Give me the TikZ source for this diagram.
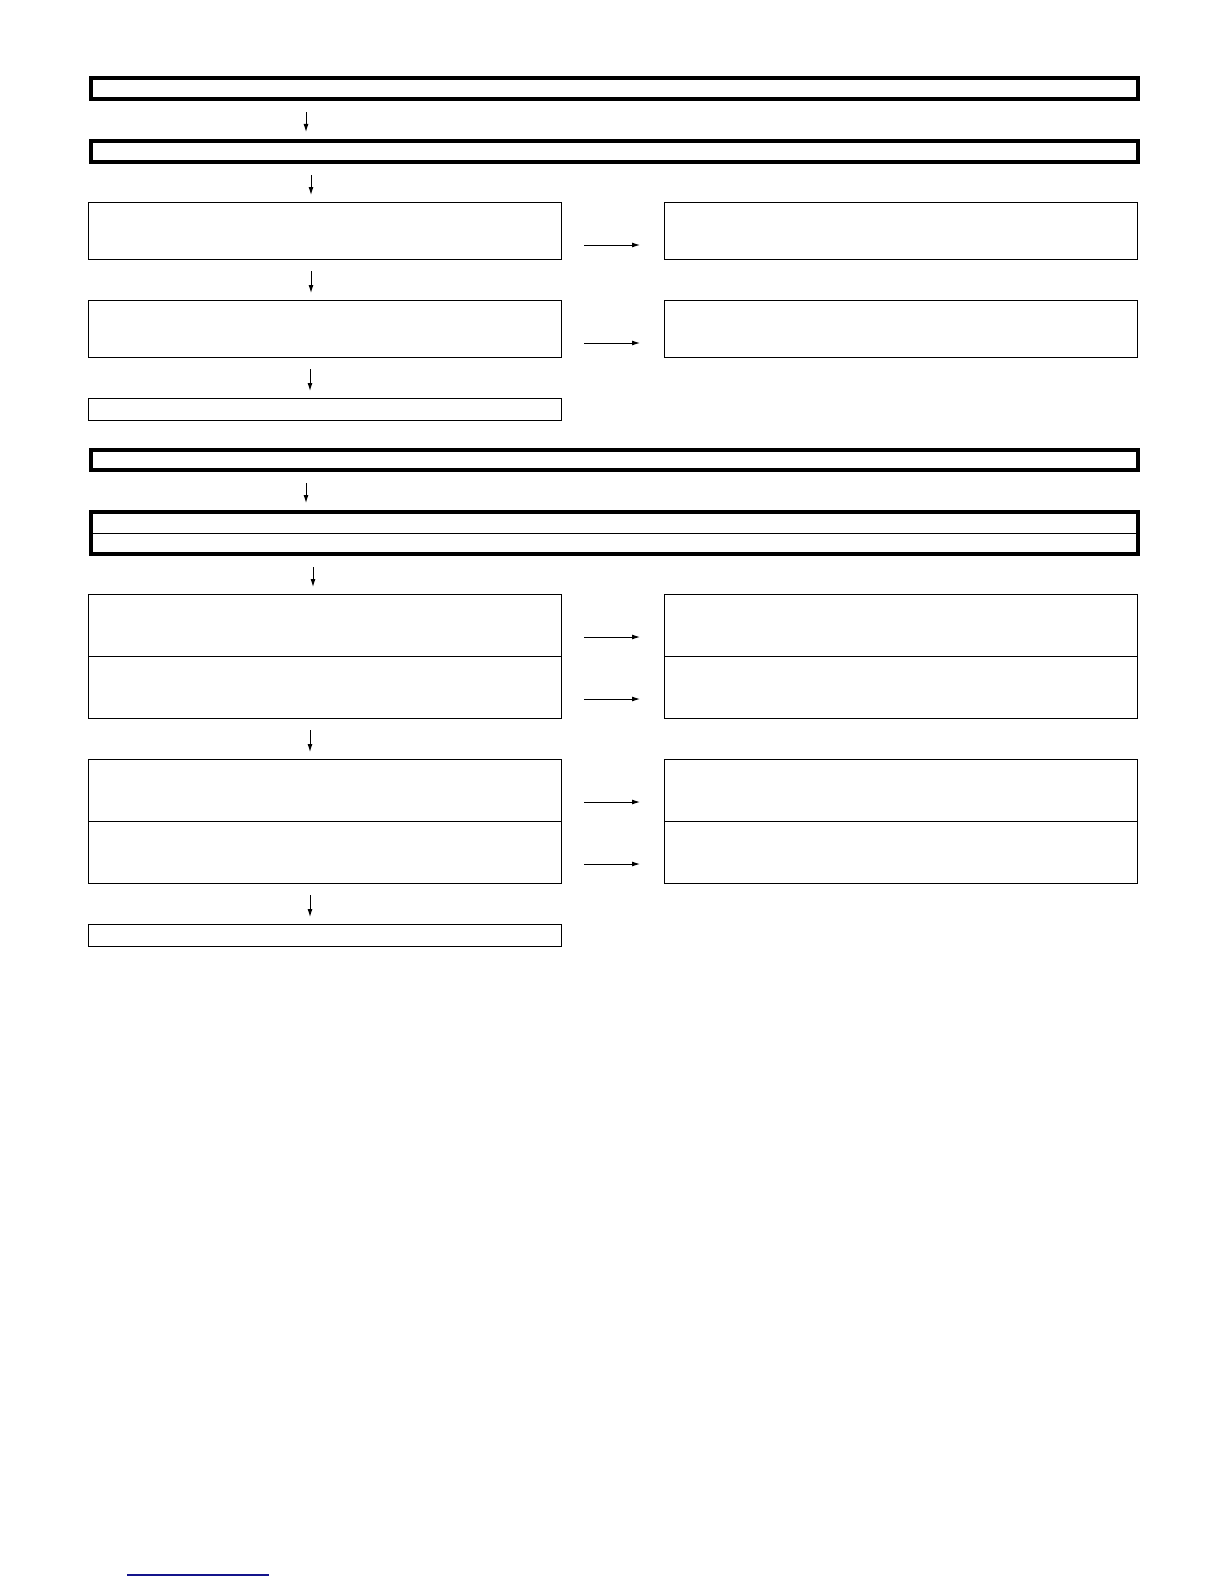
\documentclass[tikz,border=0pt]{standalone}
\usepackage{amsmath}
\usepackage{amssymb}
\usetikzlibrary{arrows.meta}
\definecolor{linkblue}{RGB}{20,20,140}

\begin{document}
\begin{tikzpicture}[x=0.5pt,y=0.5pt,yscale=-1,xscale=1,
  thickbox/.style={draw, line width=2.2pt, inner sep=0pt, anchor=north west, minimum width=523.5pt},
  thinbox/.style={draw, line width=0.6pt, inner sep=0pt, anchor=north west, minimum width=236.5pt},
  arr/.style={line width=0.5pt, -{Latex[length=4pt,width=2.5pt]}},
  downarr/.style={arr, shorten <=5.5pt, shorten >=3.5pt},
  sidearr/.style={arr, shorten <=11pt, shorten >=12pt}]
\useasboundingbox (0,0) rectangle (1224,1584);

%Thick boxes
\node [thickbox, minimum height=10.5pt] (t1) at (89,76) {};
\node [thickbox, minimum height=10.5pt] (t2) at (89,139) {};
\node [thickbox, minimum height=10pt] (t3) at (89,448) {};
\node [thickbox, minimum height=21pt] (t4) at (89,510) {};
\draw [line width=0.6pt] (t4.west) -- (t4.east) ;

%Upper boxes
\node [thinbox, minimum height=28.5pt] (l1) at (88,202) {};
\node [thinbox, minimum height=28.5pt] (r1) at (664,202) {};
\node [thinbox, minimum height=28.5pt] (l2) at (88,300) {};
\node [thinbox, minimum height=28.5pt] (r2) at (664,300) {};
\node [thinbox, minimum height=11pt] (l3) at (88,398) {};

%Lower boxes
\node [thinbox, minimum height=31pt] (l4) at (88,594) {};
\node [thinbox, minimum height=31pt] (r4) at (664,594) {};
\node [thinbox, minimum height=31pt] (l5) at (88,656) {};
\node [thinbox, minimum height=31pt] (r5) at (664,656) {};
\node [thinbox, minimum height=31pt] (l6) at (88,759) {};
\node [thinbox, minimum height=31pt] (r6) at (664,759) {};
\node [thinbox, minimum height=31pt] (l7) at (88,821) {};
\node [thinbox, minimum height=31pt] (r7) at (664,821) {};
\node [thinbox, minimum height=11pt] (l8) at (88,924) {};

%Down arrows
\draw [downarr] (t1.south -| 306,0) -- (t2.north -| 306,0) ;
\draw [downarr] (t2.south -| 311,0) -- (l1.north -| 311,0) ;
\draw [downarr] (l1.south -| 311,0) -- (l2.north -| 311,0) ;
\draw [downarr] (l2.south -| 310,0) -- (l3.north -| 310,0) ;
\draw [downarr] (t3.south -| 306,0) -- (t4.north -| 306,0) ;
\draw [downarr] (t4.south -| 313,0) -- (l4.north -| 313,0) ;
\draw [downarr] (l5.south -| 310,0) -- (l6.north -| 310,0) ;
\draw [downarr] (l7.south -| 310,0) -- (l8.north -| 310,0) ;

%Side arrows
\foreach \n in {1,2,4,5,6,7}
  \draw [sidearr] ([yshift=21.5pt]l\n.north east) -- ([yshift=21.5pt]r\n.north west) ;

%Link line
\draw [linkblue, line width=0.6pt] (127,1575) -- (269,1575) ;

\end{tikzpicture}
\end{document}
